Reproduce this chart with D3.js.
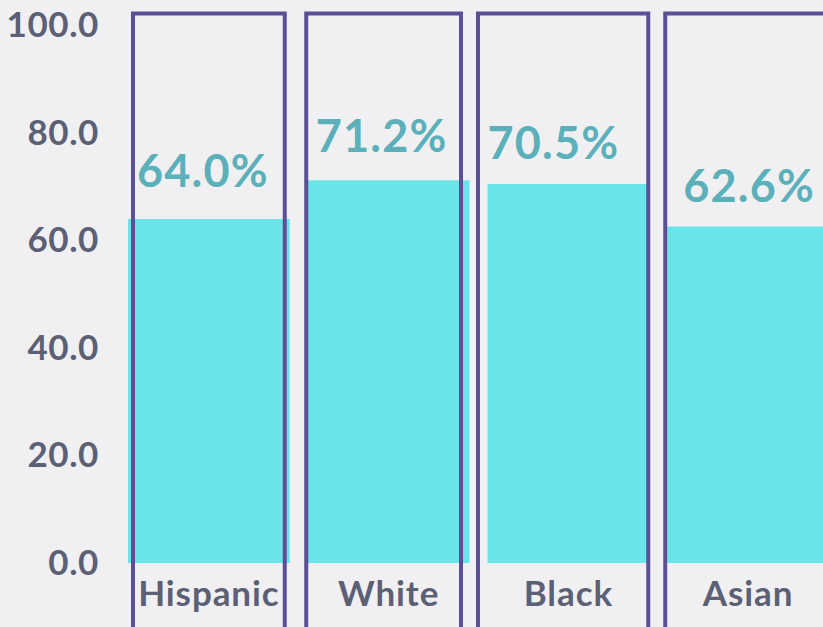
<!DOCTYPE html>
<html>
<head>
<meta charset="utf-8">
<script src="https://cdn.jsdelivr.net/npm/d3@7"></script>
<style>
  html, body { margin: 0; padding: 0; background: #f0f0f3; }
  svg { display: block; }
  text { font-family: Lato, "Open Sans", sans-serif; font-weight: 700; }
</style>
</head>
<body>
<div id="chart"></div>
<script>
/**
 * DATA
 * */
const categories = ["Hispanic", "White", "Black", "Asian"];
const values = [64.0, 71.2, 70.5, 62.6];
const tickValues = [0, 20, 40, 60, 80, 100];

/**
 * CONSTANTS
 * */
const width = 823,
  height = 627;

// highlight boxes: offsets from each bar's left / right edge
const boxInset = [[5, -5], [-1.5, -8.5], [-9.5, -1], [-2, 20]];
// value label nudges [dx, dy] from the bar centre / top
const labelNudge = [[-6, -4], [-7, 0], [-15, 3], [1, 3]];

const svg = d3.select("#chart")
  .append("svg")
  .attr("width", width)
  .attr("height", height);

svg.append("rect")
  .attr("width", width)
  .attr("height", height)
  .attr("fill", "#f0f0f3");

const x = d3.scaleBand()
  .domain(categories)
  .range([128, 829])
  .paddingInner(0.1)
  .paddingOuter(0);

const y = d3.scaleLinear()
  .domain([0, 100])
  .range([563, 25.5]);

const rows = categories.map((c, i) => ({ name: c, value: values[i], i }));

// + Y AXIS
const yAxis = svg.append("g")
  .attr("transform", "translate(99,0)")
  .call(d3.axisLeft(y)
    .tickValues(tickValues)
    .tickFormat(d3.format(".1f"))
    .tickSize(0)
    .tickPadding(0));

yAxis.select(".domain").remove();
yAxis.selectAll("text")
  .attr("fill", "#5b6075")
  .style("font-size", "35px")
  .style("letter-spacing", "0.6px")
  .style("font-family", "Lato, sans-serif")
  .style("font-weight", 700);

// + BARS
svg.selectAll("rect.bar")
  .data(rows)
  .join("rect")
  .attr("class", "bar")
  .attr("x", d => x(d.name))
  .attr("y", d => y(d.value))
  .attr("width", x.bandwidth())
  .attr("height", d => y(0) - y(d.value))
  .attr("fill", "#69e5e9");

// + HIGHLIGHT BOXES
svg.selectAll("rect.box")
  .data(rows)
  .join("rect")
  .attr("class", "box")
  .attr("x", d => x(d.name) + boxInset[d.i][0])
  .attr("y", 13.5)
  .attr("width", d => x.bandwidth() - boxInset[d.i][0] + boxInset[d.i][1])
  .attr("height", 700)
  .attr("fill", "none")
  .attr("stroke", "#5d4e95")
  .attr("stroke-width", 4);

// + VALUE LABELS
svg.selectAll("text.value")
  .data(rows)
  .join("text")
  .attr("class", "value")
  .attr("x", d => x(d.name) + x.bandwidth() / 2 + labelNudge[d.i][0])
  .attr("y", d => y(d.value) - 28 + labelNudge[d.i][1])
  .attr("text-anchor", "middle")
  .attr("fill", "#5bb0ba")
  .style("font-size", "45px")
  .style("letter-spacing", "1.2px")
  .text(d => d.value.toFixed(1) + "%");

// + CATEGORY LABELS
svg.selectAll("text.cat")
  .data(rows)
  .join("text")
  .attr("class", "cat")
  .attr("x", d => x(d.name) + x.bandwidth() / 2)
  .attr("y", 606)
  .attr("text-anchor", "middle")
  .attr("fill", "#5b6075")
  .style("font-size", "35px")
  .style("letter-spacing", "0.9px")
  .text(d => d.name);
</script>
</body>
</html>
